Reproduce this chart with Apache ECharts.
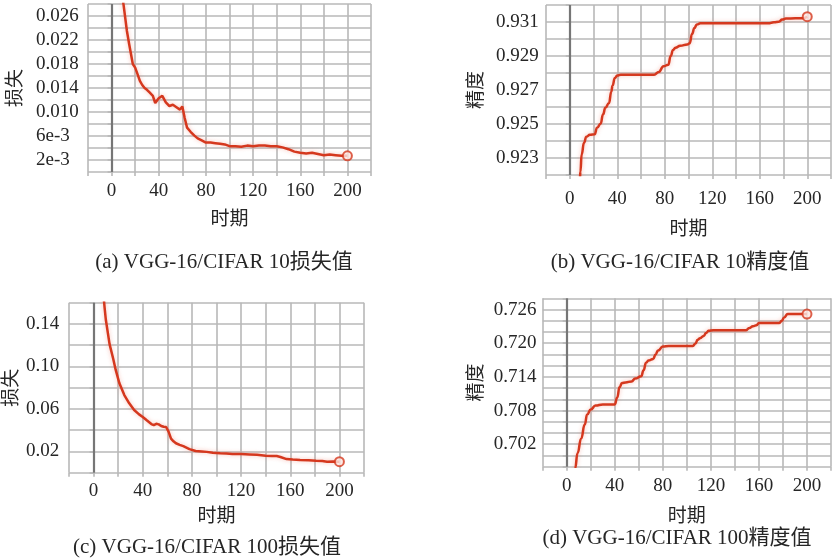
<!DOCTYPE html>
<html>
<head>
<meta charset="utf-8">
<script src="https://cdn.jsdelivr.net/npm/echarts@6/dist/echarts.min.js"></script>
<style>
  html, body { margin: 0; padding: 0; background: #fff; }
  #main { width: 834px; height: 560px; }
</style>
</head>
<body>
<div id="main"></div>
<script>
// (a) VGG-16/CIFAR 10 loss
const epochsA = [1, 4, 7, 10, 13, 15, 18, 20, 22, 24, 26, 28, 30, 32, 35, 37, 40, 43, 46, 49, 52, 55, 58, 60, 62, 64, 67, 70, 73, 76, 80, 84, 88, 92, 96, 100, 105, 110, 115, 120, 125, 130, 135, 140, 145, 150, 155, 160, 165, 170, 175, 180, 185, 190, 195, 200];
const lossA = [0.060, 0.045, 0.035, 0.0281, 0.0235, 0.0212, 0.0180, 0.0174, 0.0163, 0.0152, 0.0145, 0.0140, 0.0137, 0.0133, 0.0127, 0.0115, 0.0123, 0.0127, 0.0116, 0.0110, 0.0112, 0.0108, 0.0104, 0.0109, 0.0090, 0.0074, 0.0067, 0.0061, 0.0056, 0.0053, 0.0049, 0.0049, 0.0048, 0.0047, 0.0046, 0.0043, 0.0043, 0.0042, 0.0044, 0.0043, 0.0044, 0.0044, 0.0043, 0.0043, 0.0041, 0.0038, 0.0034, 0.0032, 0.0031, 0.0032, 0.0030, 0.0028, 0.0029, 0.0028, 0.0027, 0.0027];

// (b) VGG-16/CIFAR 10 accuracy
const epochsB = [5, 8, 9, 10, 12, 14, 17, 21, 23, 26, 28, 30, 33, 35, 36, 38, 40, 43, 50, 60, 71, 75, 79, 83, 85, 87, 89, 93, 99, 101, 103, 105, 107, 110, 120, 140, 167, 172, 176, 179, 182, 190, 196, 200];
const accB = [0.915, 0.9205, 0.9222, 0.9232, 0.9239, 0.92425, 0.92437, 0.9244, 0.92478, 0.92502, 0.92556, 0.92595, 0.92622, 0.9269, 0.92725, 0.9277, 0.92785, 0.9279, 0.9279, 0.9279, 0.9279, 0.92806, 0.9284, 0.92848, 0.929, 0.92935, 0.92948, 0.9296, 0.92968, 0.92975, 0.9303, 0.93065, 0.93085, 0.93092, 0.93092, 0.93092, 0.93092, 0.93098, 0.93102, 0.93114, 0.9312, 0.93122, 0.93122, 0.93131];

// (c) VGG-16/CIFAR 100 loss
const epochsC = [1, 4, 7, 9, 10, 13, 16, 18, 21, 25, 29, 33, 37, 40, 43, 47, 49, 51, 53, 55, 57, 59, 60, 61, 63, 65, 67, 70, 73, 78, 83, 88, 92, 97, 103, 108, 113, 120, 127, 133, 140, 145, 149, 152, 157, 162, 168, 175, 181, 186, 190, 195, 200];
const lossC = [0.35, 0.24, 0.18, 0.155, 0.1437, 0.121, 0.107, 0.0967, 0.0841, 0.0731, 0.0653, 0.059, 0.0549, 0.0525, 0.0496, 0.0458, 0.0448, 0.046, 0.0455, 0.044, 0.0432, 0.043, 0.0415, 0.0386, 0.032, 0.0295, 0.0277, 0.0262, 0.025, 0.0222, 0.0204, 0.02, 0.0196, 0.0188, 0.0182, 0.018, 0.0176, 0.0175, 0.0172, 0.0168, 0.016, 0.0158, 0.0157, 0.0148, 0.0128, 0.0124, 0.012, 0.0117, 0.0113, 0.011, 0.0104, 0.0106, 0.0104];

// (d) VGG-16/CIFAR 100 accuracy
const epochsD = [3, 7, 9, 12, 15, 17, 20, 24, 30, 40, 42, 44, 46, 49, 54, 57, 62, 64, 66, 68, 72, 74, 76, 80, 85, 95, 105, 107, 109, 111, 114, 116, 118, 122, 135, 149, 152, 155, 158, 160, 170, 177, 179, 181, 184, 190, 200];
const accD = [0.69, 0.6977, 0.7004, 0.703, 0.7055, 0.7073, 0.7082, 0.7089, 0.7091, 0.7091, 0.7103, 0.7122, 0.7129, 0.713, 0.7132, 0.7137, 0.7141, 0.7152, 0.7165, 0.7169, 0.7172, 0.718, 0.7187, 0.7194, 0.7195, 0.7195, 0.7195, 0.7199, 0.7206, 0.7209, 0.7213, 0.7218, 0.7222, 0.7223, 0.7223, 0.7223, 0.7227, 0.723, 0.7232, 0.7236, 0.7236, 0.7236, 0.724, 0.7246, 0.7252, 0.7252, 0.7252];

// tick labels
const xTicks = [0, 40, 80, 120, 160, 200];
const yTicksA = [0.002, 0.006, 0.010, 0.014, 0.018, 0.022, 0.026];
const yLabelsA = ['2e-3', '6e-3', '0.010', '0.014', '0.018', '0.022', '0.026'];
const yTicksB = [0.923, 0.925, 0.927, 0.929, 0.931];
const yLabelsB = ['0.923', '0.925', '0.927', '0.929', '0.931'];
const yTicksC = [0.02, 0.06, 0.10, 0.14];
const yLabelsC = ['0.02', '0.06', '0.10', '0.14'];
const yTicksD = [0.702, 0.708, 0.714, 0.720, 0.726];
const yLabelsD = ['0.702', '0.708', '0.714', '0.720', '0.726'];

const captions = ['(a) VGG-16/CIFAR 10损失值', '(b) VGG-16/CIFAR 10精度值', '(c) VGG-16/CIFAR 100损失值', '(d) VGG-16/CIFAR 100精度值'];

const RED = '#d5381e';
const GRID = '#b8b8b8';
const FONT = "'Liberation Serif', 'Noto Sans CJK SC', serif";
const TXT = '#262626';

const chart = echarts.init(document.getElementById('main'));

const zip = (xs, ys) => xs.map((x, i) => [x, ys[i]]);
const pick = (ticks, labels) => (v) => {
  const i = ticks.findIndex((t) => Math.abs(t - v) < 1e-7);
  return i >= 0 ? labels[i] : '';
};

// layout per panel
const panels = [
  { grid: { left: 88, top: 4, width: 283, height: 168 }, ymin: 0, ymax: 0.028, yint: 0.002,
    fmt: pick(yTicksA, yLabelsA), ylm: 52, xlm: 10, xgap: 48, ygap: 72, yname: '损失',
    data: zip(epochsA, lossA), smooth: false },
  { grid: { left: 546, top: 5, width: 291, height: 170 }, ymin: 0.922, ymax: 0.932, yint: 0.001,
    fmt: pick(yTicksB, yLabelsB), ylm: 50, xlm: 15, xgap: 55, ygap: 69, yname: '精度',
    data: zip(epochsB, accB), smooth: 0.5 },
  { grid: { left: 69, top: 302.7, width: 295, height: 170 }, ymin: 0, ymax: 0.16, yint: 0.02,
    fmt: pick(yTicksC, yLabelsC), ylm: 43, xlm: 9, xgap: 44, ygap: 57, yname: '损失',
    data: zip(epochsC, lossC), smooth: false },
  { grid: { left: 542.7, top: 298.3, width: 294, height: 168.4 }, ymin: 0.698, ymax: 0.728, yint: 0.002,
    fmt: pick(yTicksD, yLabelsD), ylm: 49, xlm: 10, xgap: 50, ygap: 66, yname: '精度',
    data: zip(epochsD, accD), smooth: 0.5 }
];

const captionPos = [[224, 262], [680, 262], [207, 547], [677, 538]];

const option = {
  animation: false,
  backgroundColor: '#fff',
  grid: panels.map((p) => p.grid),
  xAxis: panels.map((p, i) => ({
    type: 'value',
    gridIndex: i,
    min: -20,
    max: 220,
    interval: 20,
    name: '时期',
    nameLocation: 'middle',
    nameGap: p.xgap,
    nameTextStyle: { fontFamily: FONT, fontSize: 19, color: TXT, verticalAlign: 'middle' },
    axisLine: { show: false },
    axisTick: { show: true, length: 4, lineStyle: { color: GRID, width: 1.6 } },
    axisLabel: {
      margin: p.xlm,
      fontFamily: FONT,
      fontSize: 19,
      color: TXT,
      formatter: (v) => (xTicks.includes(v) ? String(v) : '')
    },
    splitLine: { show: true, lineStyle: { color: GRID, width: 1.6 } }
  })),
  yAxis: panels.map((p, i) => ({
    type: 'value',
    gridIndex: i,
    min: p.ymin,
    max: p.ymax,
    interval: p.yint,
    name: p.yname,
    nameLocation: 'middle',
    nameGap: p.ygap,
    nameRotate: 90,
    nameTextStyle: { fontFamily: FONT, fontSize: 19, color: TXT, verticalAlign: 'middle' },
    axisLine: { show: false },
    axisTick: { show: true, length: 4, lineStyle: { color: GRID, width: 1.6 } },
    axisLabel: {
      margin: p.ylm,
      align: 'left',
      fontFamily: FONT,
      fontSize: 19,
      color: TXT,
      formatter: p.fmt
    },
    splitLine: { show: true, lineStyle: { color: GRID, width: 1.6 } }
  })),
  series: panels.flatMap((p, i) => [
    {
      type: 'line',
      xAxisIndex: i,
      yAxisIndex: i,
      data: p.data,
      showSymbol: false,
      smooth: p.smooth,
      smoothMonotone: 'x',
      lineStyle: {
        color: RED,
        width: 2.5,
        shadowColor: 'rgba(240, 120, 100, 0.45)',
        shadowBlur: 4
      },
      markLine: {
        silent: true,
        symbol: 'none',
        label: { show: false },
        lineStyle: { color: '#767676', width: 2.2, type: 'solid' },
        data: [{ xAxis: 0 }]
      },
      z: 3
    },
    {
      type: 'scatter',
      xAxisIndex: i,
      yAxisIndex: i,
      data: [p.data[p.data.length - 1]],
      symbol: 'circle',
      symbolSize: 9,
      itemStyle: { color: '#fde6e1', borderColor: RED, borderWidth: 2 },
      z: 4
    }
  ]),
  graphic: captions.map((t, i) => ({
    type: 'text',
    x: captionPos[i][0],
    y: captionPos[i][1],
    style: {
      text: t,
      font: "21px 'Liberation Serif', 'Noto Sans CJK SC', serif",
      fill: TXT,
      align: 'center',
      verticalAlign: 'middle'
    }
  }))
};

chart.setOption(option);
</script>
</body>
</html>
